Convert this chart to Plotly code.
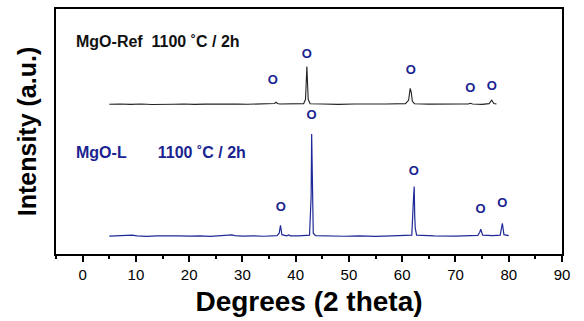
import plotly.graph_objects as go

# ---- data ----
ref_two_theta = [5.0, 7, 9, 11, 13, 15, 17, 19, 21, 23, 25, 27, 29, 31, 33, 35.6, 36.0, 36.3, 36.6, 37.0,
                 39, 41.5, 41.85, 42.1, 42.35, 42.7, 45, 48, 51, 54, 57, 60.6, 61.2, 61.5, 61.7, 61.9, 62.3,
                 65, 68, 71, 72.4, 72.8, 73.2, 75, 76.3, 76.8, 77.2, 77.7]
ref_intensity = [0, 0.3, -0.2, 0.2, -0.3, 0.2, 0, 0.3, -0.2, 0.1, 0.3, -0.2, 0.2, -0.1, 0.2, 0.3, 0.8, 2.0, 0.8, 0.3,
                 0.1, 0.6, 5, 38, 5, 0.5, 0.2, -0.2, 0.2, -0.1, 0.2, 0.6, 4, 16, 12, 3, 0.5,
                 0.1, -0.2, 0.2, 0.3, 1.0, 0.3, -0.2, 0.6, 4.0, 0.7, 0.3]
ref_offset = 151

l_two_theta = [5.0, 7, 8.5, 9.3, 10.2, 12, 14, 16, 18, 20, 22, 24, 26, 27.5, 28.0, 28.6, 30, 32, 34, 36.5,
               36.9, 37.15, 37.4, 38.3, 38.7, 39.0, 40.5, 42.6, 42.9, 43.0, 43.12, 43.3, 43.7, 46, 49, 52, 55,
               58, 61.8, 62.1, 62.25, 62.35, 62.45, 62.7, 66, 70, 74.2, 74.55, 74.75, 75.1, 77, 78.4, 78.65,
               78.8, 79.1, 80.0]
l_intensity = [0, 0.3, 0.2, 1.0, 0.2, -0.2, 0.3, -0.1, 0.2, 0, 0.3, -0.2, 0.2, 0.8, 1.2, 0.5, 0, 0.3, -0.1, 0.5,
               3, 11, 1.5, 0.3, 1.2, 0.3, 0.2, 1.0, 40, 103, 55, 3, 0.5, 0.2, -0.1, 0.3, -0.2,
               0.2, 1.0, 36, 50, 20, 8, 1.0, 0.2, 0, 0.8, 4, 7, 1.0, 0.5, 1.0, 8, 13, 1.5, 0.5]
l_offset = 18

ref_mark_x = [35.7, 42.1, 61.6, 72.8, 76.8]
ref_mark_y = [175, 201, 185, 167, 169]
l_mark_x = [37.2, 43.0, 62.2, 74.7, 78.8]
l_mark_y = [47, 139, 83, 45, 51]

x_ticks = [0, 10, 20, 30, 40, 50, 60, 70, 80, 90]

NAVY = "#1a2490"
BLUE_LINE = "#1f2a96"
FONT = "Liberation Sans, Arial, sans-serif"

fig = go.Figure()
fig.add_trace(go.Scatter(x=ref_two_theta, y=[v + ref_offset for v in ref_intensity], mode="lines",
                         line=dict(color="#222222", width=1.1), showlegend=False, hoverinfo="skip"))
fig.add_trace(go.Scatter(x=l_two_theta, y=[v + l_offset for v in l_intensity], mode="lines",
                         line=dict(color=BLUE_LINE, width=1.2), showlegend=False, hoverinfo="skip"))
fig.add_trace(go.Scatter(x=ref_mark_x + l_mark_x, y=ref_mark_y + l_mark_y, mode="text",
                         text=["O"] * (len(ref_mark_x) + len(l_mark_x)),
                         textfont=dict(family=FONT, size=13, color=NAVY, weight="bold"),
                         showlegend=False, hoverinfo="skip"))

fig.add_annotation(x=-1.6, y=214, xref="x", yref="y",
                   text="MgO-Ref&nbsp;&nbsp;1100 ˚C / 2h", showarrow=False,
                   xanchor="left", yanchor="middle",
                   font=dict(family=FONT, size=16, color="#111111", weight="bold"))
fig.add_annotation(x=-1.6, y=102, xref="x", yref="y",
                   text="MgO-L&nbsp;&nbsp;&nbsp;&nbsp;&nbsp;&nbsp;&nbsp;1100 ˚C / 2h", showarrow=False,
                   xanchor="left", yanchor="middle",
                   font=dict(family=FONT, size=16, color=NAVY, weight="bold"))

fig.update_layout(
    width=584, height=321,
    margin=dict(l=56, r=22, t=7, b=67),
    paper_bgcolor="white", plot_bgcolor="white",
    font=dict(family=FONT, color="black"),
    xaxis=dict(range=[-5, 90], tickmode="array", tickvals=x_ticks, ticks="outside", ticklen=6,
               tickwidth=1.5, tickcolor="black",
               minor=dict(tickmode="linear", tick0=-5, dtick=5, ticks="outside", ticklen=3, tickwidth=1.5,
                          tickcolor="black", showgrid=False),
               showline=True, linecolor="black", linewidth=2, mirror=True, showgrid=False, zeroline=False,
               tickfont=dict(size=15, color="black"),
               title=dict(text="Degrees (2 theta)", font=dict(size=28, color="black", weight="bold"),
                          standoff=9)),
    yaxis=dict(range=[0, 247], showticklabels=False, ticks="", showline=True, linecolor="black",
               linewidth=2, mirror=True, showgrid=False, zeroline=False,
               title=dict(text="Intensity (a.u.)", font=dict(size=25, color="black", weight="bold"),
                          standoff=10)),
)

fig.write_html("out.html", config={"displayModeBar": False},
               post_script="document.body.style.margin='0';")
